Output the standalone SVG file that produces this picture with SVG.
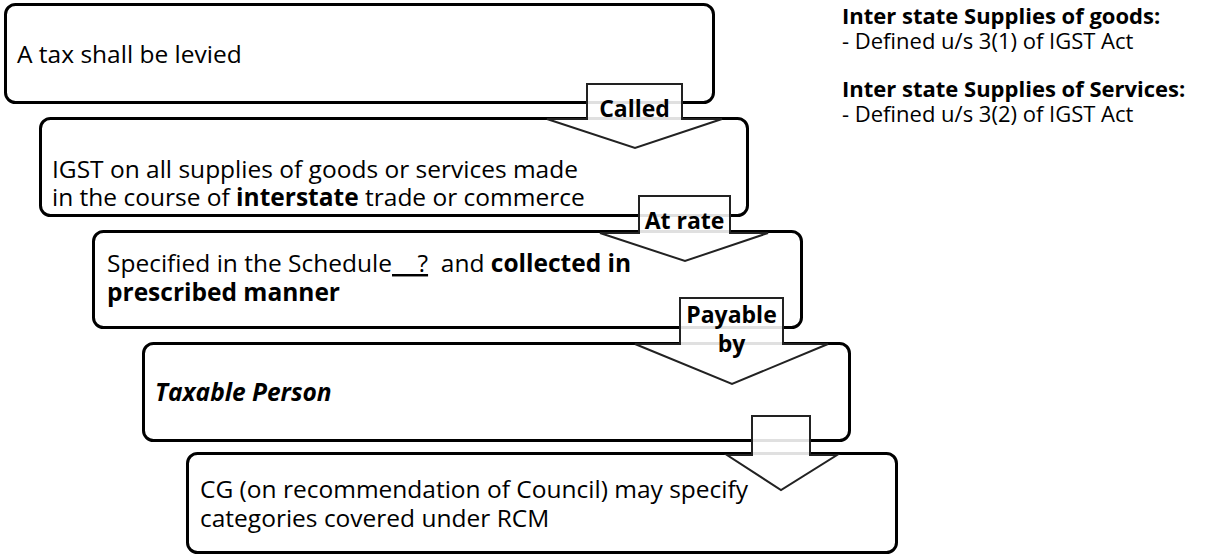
<svg xmlns="http://www.w3.org/2000/svg" width="1207" height="558" viewBox="0 0 1207 558">
<style>
.box{fill:#fff;stroke:#000;stroke-width:3}
.arr{fill:#fff;fill-opacity:0.88;stroke:#222;stroke-width:2;stroke-linejoin:miter}
text{font-family:"Open Sans","Noto Sans","Liberation Sans",sans-serif;fill:#000}
.t{font-size:24.5px}
.b{font-weight:bold}
.n{font-weight:normal}
.lbl{font-size:23px;font-weight:bold;text-anchor:middle}
.side{font-size:22px}
</style>
<rect width="1207" height="558" fill="#fff"/>
<g id="node1"><rect class="box" x="5.5" y="4.5" width="708" height="98" rx="10"/>
<text class="t" x="17" y="63">A tax shall be levied</text></g>
<g id="node2"><rect class="box" x="40.5" y="118.5" width="707" height="97" rx="10"/>
<text class="t" x="52" y="178">IGST on all supplies of goods or services made<tspan x="52" dy="28">in the course of </tspan><tspan class="b">interstate</tspan> trade or commerce</text></g>
<g id="node3"><rect class="box" x="93.5" y="231.5" width="708" height="96" rx="10"/>
<text class="t" x="107" y="272">Specified in the Schedule<tspan text-decoration="underline" xml:space="preserve">    ?</tspan><tspan xml:space="preserve">  and </tspan><tspan class="b">collected in</tspan><tspan class="b" x="107" dy="29">prescribed manner</tspan></text></g>
<g id="node4"><rect class="box" x="143.5" y="343.5" width="706" height="97" rx="10"/>
<text class="t b" x="155" y="401" font-style="italic">Taxable Person</text></g>
<g id="node5"><rect class="box" x="187.5" y="453.5" width="709" height="99" rx="10"/>
<text class="t" x="200" y="498">CG (on recommendation of Council) may specify<tspan x="200" dy="29">categories covered under RCM</tspan></text></g>
<g id="connectors">
<polygon class="arr" points="587,84 682,84 682,119 722,119 635,148 547,119 587,119"/>
<text class="lbl" x="634.5" y="117" font-size="25">Called</text>
<polygon class="arr" points="639,196 730,196 730,233 768,233 685,261 600,233 639,233"/>
<text class="lbl" x="684.5" y="229">At rate</text>
<polygon class="arr" points="680,298 783,298 783,344 828,344 732,384 635,344 680,344"/>
<text class="lbl" x="731.5" y="323">Payable<tspan x="731.5" dy="29">by</tspan></text>
<polygon class="arr" points="752,416 810,416 810,455 837,455 781,490 727,455 752,455"/>
</g>
<g id="notes">
<text class="side b" x="842" y="24">Inter state Supplies of goods:<tspan class="n" x="842" dy="25">- Defined u/s 3(1) of IGST Act</tspan></text>
<text class="side b" x="842" y="97">Inter state Supplies of Services:<tspan class="n" x="842" dy="25">- Defined u/s 3(2) of IGST Act</tspan></text>
</g>
</svg>
